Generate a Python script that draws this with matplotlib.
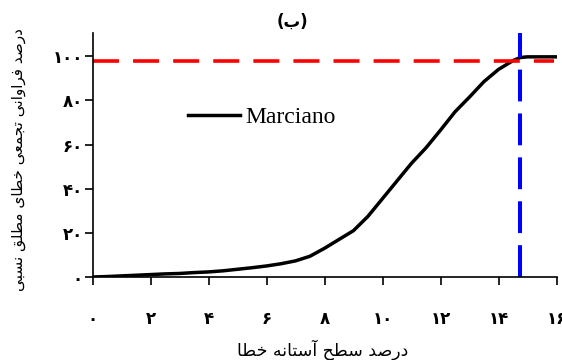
import numpy as np
import matplotlib
matplotlib.use("Agg")
import matplotlib.pyplot as plt
from matplotlib.ticker import FuncFormatter

# cumulative curve
err_x = [0, 0.5, 1, 1.5, 2, 2.5, 3, 3.5, 4, 4.5, 5, 5.5, 6, 6.5, 7, 7.5, 8,
         8.5, 9, 9.5, 10, 10.5, 11, 11.5, 12, 12.5, 13, 13.5, 14, 14.25,
         14.5, 14.75, 15, 16]
cum_y = [0, 0.2, 0.5, 0.8, 1.1, 1.4, 1.6, 2.0, 2.3, 2.8, 3.5, 4.2, 5.0, 6.0,
         7.3, 9.4, 13.0, 17.0, 21.0, 27.5, 35.5, 43.5, 51.5, 58.5, 66.5,
         74.8, 81.5, 88.5, 94.0, 96.0, 98.0, 99.4, 99.7, 99.7]
level_y = 98
thresh_x = 14.75
xticks = [0, 2, 4, 6, 8, 10, 12, 14, 16]
yticks = [0, 20, 40, 60, 80, 100]
series_name = "Marciano"
title_txt = "(ب)"
xlabel_txt = "درصد سطح آستانه خطا"
ylabel_txt = "درصد فراوانی تجمعی خطای مطلق نسبی"

# small hand made shaper, matplotlib does not join arabic letters
FORMS = {
    'ا': (0xFE8D, 0xFE8E, None, None),
    'آ': (0xFE81, 0xFE82, None, None),
    'ب': (0xFE8F, 0xFE90, 0xFE91, 0xFE92),
    'ت': (0xFE95, 0xFE96, 0xFE97, 0xFE98),
    'ج': (0xFE9D, 0xFE9E, 0xFE9F, 0xFEA0),
    'ح': (0xFEA1, 0xFEA2, 0xFEA3, 0xFEA4),
    'خ': (0xFEA5, 0xFEA6, 0xFEA7, 0xFEA8),
    'د': (0xFEA9, 0xFEAA, None, None),
    'ر': (0xFEAD, 0xFEAE, None, None),
    'س': (0xFEB1, 0xFEB2, 0xFEB3, 0xFEB4),
    'ص': (0xFEB9, 0xFEBA, 0xFEBB, 0xFEBC),
    'ط': (0xFEC1, 0xFEC2, 0xFEC3, 0xFEC4),
    'ع': (0xFEC9, 0xFECA, 0xFECB, 0xFECC),
    'ف': (0xFED1, 0xFED2, 0xFED3, 0xFED4),
    'ق': (0xFED5, 0xFED6, 0xFED7, 0xFED8),
    'ل': (0xFEDD, 0xFEDE, 0xFEDF, 0xFEE0),
    'م': (0xFEE1, 0xFEE2, 0xFEE3, 0xFEE4),
    'ن': (0xFEE5, 0xFEE6, 0xFEE7, 0xFEE8),
    'ه': (0xFEE9, 0xFEEA, 0xFEEB, 0xFEEC),
    'و': (0xFEED, 0xFEEE, None, None),
    'ی': (0xFEEF, 0xFEF0, 0xFEF3, 0xFEF4),
}


def fa(s):
    out = []
    for i, ch in enumerate(s):
        f = FORMS.get(ch)
        if f is None:
            out.append(ch)
            continue
        prev = s[i-1] if i > 0 else None
        nxt = s[i+1] if i+1 < len(s) else None
        jp = prev in FORMS and FORMS[prev][2] is not None
        jn = nxt in FORMS and f[2] is not None
        if jp and jn:
            c = f[3]
        elif jp:
            c = f[1]
        elif jn:
            c = f[2]
        else:
            c = f[0]
        out.append(chr(c))
    vis = ''.join(out)[::-1]
    return vis.translate(str.maketrans('()', ')('))


def fa_num(v, pos=None):
    return str(int(round(v))).translate(str.maketrans('0123456789', '۰۱۲۳۴۵۶۷۸۹'))


plt.rcParams['font.family'] = ['DejaVu Sans']

fig = plt.figure(figsize=(5.62, 3.6), dpi=100)
ax = fig.add_axes([92.5/562, 83/360, 464/562, 244/360])

ax.plot(err_x, cum_y, color='black', lw=2.5, label=series_name)
ax.plot([0, 15.9], [level_y, level_y], color='#ff0000', lw=2.6, dashes=(7.2, 3.9))
ax.plot([thresh_x, thresh_x], [0, 110.5], color='#0000ff', lw=2.9, dashes=(7.9, 3.0))

ax.set_xlim(0, 16)
ax.set_ylim(0, 110.5)
ax.set_xticks(xticks)
ax.set_yticks(yticks)
ax.xaxis.set_major_formatter(FuncFormatter(fa_num))
ax.yaxis.set_major_formatter(FuncFormatter(fa_num))
ax.tick_params(axis='x', direction='out', length=6, width=1.2, pad=18, labelsize=12)
ax.tick_params(axis='y', direction='out', length=6, width=1.2, pad=1, labelsize=12)
for t in ax.get_xticklabels() + ax.get_yticklabels():
    t.set_fontweight('bold')

for s in ['top', 'right']:
    ax.spines[s].set_visible(False)
for s in ['left', 'bottom']:
    ax.spines[s].set_linewidth(1.2)

ax.set_xlabel(fa(xlabel_txt), fontsize=12.5, va='center')
ax.set_ylabel(fa(ylabel_txt), fontsize=11, va='center')
ax.xaxis.set_label_coords(0.497, -0.30)
ax.yaxis.set_label_coords(-0.16, 0.48)

fig.text(292/562, 1 - 22/360, fa(title_txt), ha='center', va='center',
         fontsize=12, fontweight='bold')

ax.legend(loc='center left', bbox_to_anchor=(0.205, 0.655), frameon=False,
          prop={'family': 'Liberation Serif', 'size': 17},
          handlelength=2.2, handletextpad=0.25, borderpad=0, borderaxespad=0)

fig.savefig('out.png', dpi=100)
